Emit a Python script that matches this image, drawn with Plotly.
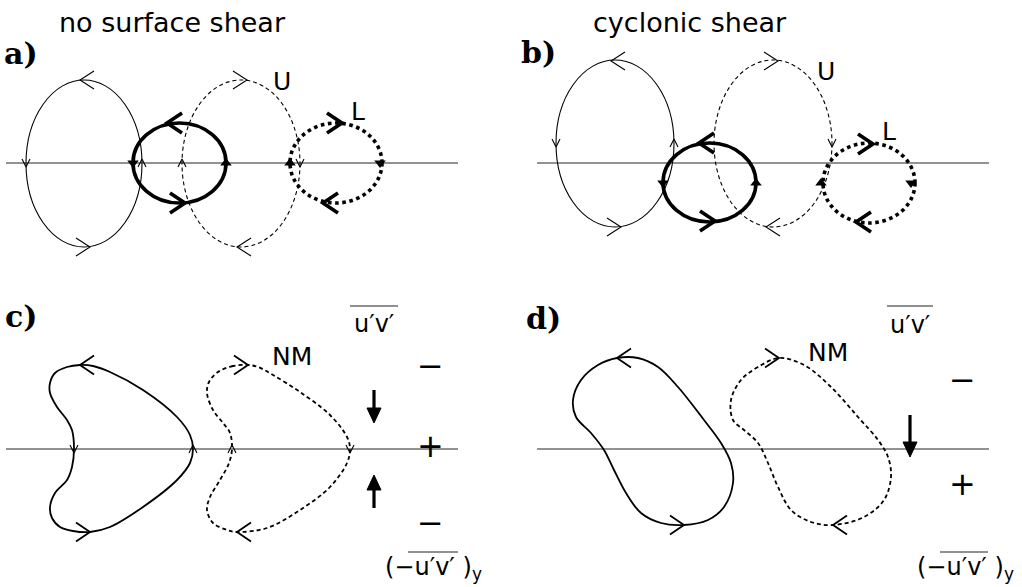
import plotly.graph_objects as go

W, H = 1022, 587

# =========================
# data (pixel positions, y grows downward)
# =========================

# panels a / b : four cells each -> thin solid, thick solid, thin dashed (U), thick dotted (L)
cell_kinds = ["thin", "thick", "dashed", "dotted"]

a_left = [26, 133, 182, 290]
a_right = [142, 226, 300, 382]
a_top = [80, 123, 80, 123]
a_bottom = [247, 203, 247, 203]

b_left = [556, 663, 714, 823]
b_right = [674, 756, 832, 915]
b_top = [60, 143, 60, 143]
b_bottom = [227, 222, 227, 223]

# panel c : kidney shaped cells
c_solid_x = [80, 67, 55, 50, 50, 57, 67, 72, 74, 72, 67, 55, 50, 52, 60, 73, 90,
             110, 143, 177, 190, 193, 190, 177, 143, 110, 93, 80]
c_solid_y = [365, 367, 373, 383, 393, 407, 420, 430, 449, 467, 480, 493, 507, 518, 527, 531, 532,
             527, 507, 480, 463, 449, 435, 417, 390, 372, 366, 365]
c_dash_x = [248, 233, 218, 209, 207, 213, 223, 230, 232, 229, 220, 210, 207, 213, 227, 237,
            267, 300, 330, 347, 350, 347, 330, 300, 273, 258, 248]
c_dash_y = [365, 366, 372, 382, 393, 410, 423, 433, 449, 463, 480, 497, 510, 523, 530, 532,
            528, 510, 487, 463, 449, 437, 415, 392, 375, 367, 365]

# panel d : tilted cells
d_solid_x = [617, 598, 581, 573, 576, 591, 604, 614, 626, 641, 661, 684,
             708, 724, 733, 731, 721, 704, 678, 658, 638, 617]
d_solid_y = [358, 365, 380, 400, 417, 433, 450, 470, 493, 513, 523, 525,
             520, 507, 483, 463, 443, 420, 387, 367, 358, 358]
d_dash_x = [779, 758, 741, 731, 733, 744, 758, 768, 778, 791, 811, 833,
            864, 884, 891, 888, 878, 858, 831, 804, 779]
d_dash_y = [358, 367, 380, 400, 420, 430, 443, 463, 487, 510, 522, 525,
            517, 500, 477, 457, 440, 417, 387, 365, 358]

# zero lines: x0, x1, y
axis_x0 = [6, 537, 6, 537]
axis_x1 = [458, 989, 458, 989]
axis_y = [163, 163, 449, 449]

# open arrowheads: tip x, tip y, direction, kind
head_x = [80, 90, 26, 142, 167, 185, 247, 237, 182, 300, 342, 323,
          611, 621, 556, 674, 699, 715, 778, 766, 832, 873, 856,
          80, 90, 74, 193, 248, 237, 232, 350,
          617, 684, 779, 833]
head_y = [80, 247, 167, 159, 123, 203, 80, 247, 159, 167, 123, 203,
          61, 227, 147, 139, 143, 221, 61, 227, 147, 144, 222,
          365, 532, 453, 445, 365, 532, 445, 453,
          358, 525, 358, 525]
head_dir = ["l", "r", "d", "u", "l", "r", "r", "l", "u", "d", "r", "l",
            "l", "r", "d", "u", "l", "r", "r", "l", "d", "r", "l",
            "l", "r", "d", "u", "r", "l", "u", "d",
            "l", "r", "r", "l"]
head_kind = ["thin", "thin", "small", "small", "thick", "thick", "thin", "thin", "small", "small", "thick", "thick",
             "thin", "thin", "small", "small", "thick", "thick", "thin", "thin", "small", "thick", "thick",
             "loop", "loop", "small", "small", "loop", "loop", "small", "small",
             "loop", "loop", "loop", "loop"]

# filled arrowheads on the thick cells
fill_x = [133, 226, 290, 380, 663, 756, 821, 911]
fill_y = [163, 163, 163, 163, 183, 183, 183, 183]
fill_dir = ["d", "u", "u", "d", "d", "u", "u", "d"]

# momentum flux convergence arrows: x, tail y, tip y
flux_x = [374, 374, 910]
flux_tail = [390, 508, 415]
flux_tip = [423, 475, 457]

# labels
title_text = ["no surface shear", "cyclonic shear"]
title_x = [172, 690]
title_y = [22, 22]

panel_text = ["a)", "b)", "c)", "d)"]
panel_x = [2, 519, 3, 524]
panel_y = [53, 52, 316, 318]

cell_text = ["U", "L", "U", "L", "NM", "NM"]
cell_x = [282, 358, 826, 889, 292, 828]
cell_y = [81, 111, 71, 131, 356, 352]

sign_text = ["\u2212", "+", "\u2212", "\u2212", "+"]
sign_x = [430, 430, 430, 962, 962]
sign_y = [366, 446, 523, 380, 484]

flux_label_x = [374, 910]
flux_label_y = [324, 325]
deriv_label_x = [383, 915]
deriv_label_y = [567, 567]
deriv_sub_x = [477, 1009]
deriv_sub_y = [574, 574]
# overlines: x0, x1, y
bar_x0 = [350, 887, 408, 940]
bar_x1 = [398, 933, 458, 988]
bar_y = [306, 306, 552, 552]

# =========================
# styles
# =========================
SANS = "DejaVu Sans"
SERIF = "DejaVu Serif"

CELL_STYLE = {
    "thin": dict(color="black", width=1.1, dash="solid"),
    "thick": dict(color="black", width=3.6, dash="solid"),
    "dashed": dict(color="black", width=1.1, dash="4px,3px"),
    "dotted": dict(color="black", width=3.6, dash="dot"),
}

# length along, half width across, line width
HEAD_STYLE = {
    "thin": (14, 9, 1.1),
    "thick": (15, 10, 3.6),
    "small": (8, 4, 1.1),
    "loop": (14, 9.5, 1.8),
}

# solid arrow head for the flux arrows: length, half width
FLUX_HEAD = (15, 7)

DIRS = {"l": (-1, 0), "r": (1, 0), "u": (0, -1), "d": (0, 1)}


def chevrons(kind):
    length, half, _ = HEAD_STYLE[kind]
    px, py = [], []
    for x, y, d, k in zip(head_x, head_y, head_dir, head_kind):
        if k != kind:
            continue
        ux, uy = DIRS[d]
        bx, by = x - ux * length, y - uy * length
        nx, ny = -uy, ux
        px += [bx + nx * half, x, bx - nx * half, None]
        py += [by + ny * half, y, by - ny * half, None]
    return px, py


fig = go.Figure()

# zero lines
for x0, x1, y in zip(axis_x0, axis_x1, axis_y):
    fig.add_shape(
        type="line", xref="x", yref="y",
        x0=x0, x1=x1, y0=y, y1=y,
        line=dict(color="#6e6e6e", width=1.6 if y > 300 else 1.3),
        layer="below",
    )

# elliptical cells of panels a and b
for lefts, rights, tops, bottoms in [(a_left, a_right, a_top, a_bottom),
                                     (b_left, b_right, b_top, b_bottom)]:
    for kind, x0, x1, y0, y1 in zip(cell_kinds, lefts, rights, tops, bottoms):
        fig.add_shape(
            type="circle", xref="x", yref="y",
            x0=x0, x1=x1, y0=y0, y1=y1,
            line=CELL_STYLE[kind],
        )

# irregular cells of panels c and d
for xs, ys, dash in [(c_solid_x, c_solid_y, "solid"), (c_dash_x, c_dash_y, "4px,3px"),
                     (d_solid_x, d_solid_y, "solid"), (d_dash_x, d_dash_y, "4px,3px")]:
    fig.add_trace(
        go.Scatter(
            x=xs, y=ys, mode="lines",
            line=dict(color="black", width=1.8, dash=dash, shape="spline", smoothing=1),
            hoverinfo="skip",
        )
    )

# open arrowheads
for kind in HEAD_STYLE:
    px, py = chevrons(kind)
    fig.add_trace(
        go.Scatter(
            x=px, y=py, mode="lines",
            line=dict(color="black", width=HEAD_STYLE[kind][2]),
            hoverinfo="skip",
        )
    )

# filled arrowheads
fig.add_trace(
    go.Scatter(
        x=fill_x, y=fill_y, mode="markers",
        marker=dict(
            symbol=["triangle-down" if d == "d" else "triangle-up" for d in fill_dir],
            size=10, color="black",
        ),
        hoverinfo="skip",
    )
)

# flux convergence arrows (shaft + filled head)
length, half = FLUX_HEAD
for x, y0, y1 in zip(flux_x, flux_tail, flux_tip):
    sign = 1 if y1 > y0 else -1
    base = y1 - sign * length
    fig.add_trace(
        go.Scatter(
            x=[x, x], y=[y0, base + sign * 2], mode="lines",
            line=dict(color="black", width=3.2),
            hoverinfo="skip",
        )
    )
    fig.add_trace(
        go.Scatter(
            x=[x - half, x, x + half, x - half], y=[base, y1, base, base],
            mode="lines", fill="toself", fillcolor="black",
            line=dict(color="black", width=1),
            hoverinfo="skip",
        )
    )

# overlines
for x0, x1, y in zip(bar_x0, bar_x1, bar_y):
    fig.add_shape(
        type="line", xref="x", yref="y",
        x0=x0, x1=x1, y0=y, y1=y,
        line=dict(color="#222222", width=1.2),
    )


def label(text, x, y, size, family=SANS, anchor="center"):
    fig.add_annotation(
        x=x, y=y, xref="x", yref="y", text=text, showarrow=False,
        xanchor=anchor, yanchor="middle",
        font=dict(family=family, size=size, color="black"),
    )


for t, x, y in zip(title_text, title_x, title_y):
    label(t, x, y, 27)
for t, x, y in zip(panel_text, panel_x, panel_y):
    label("<b>" + t + "</b>", x, y, 30, family=SERIF, anchor="left")
for t, x, y in zip(cell_text, cell_x, cell_y):
    label(t, x, y, 25)
for t, x, y in zip(sign_text, sign_x, sign_y):
    label(t, x, y, 32)
for x, y in zip(flux_label_x, flux_label_y):
    label("u\u2032v\u2032", x, y, 24)
for x, y in zip(deriv_label_x, deriv_label_y):
    label("(\u2212u\u2032v\u2032 )", x, y, 24, anchor="left")
for x, y in zip(deriv_sub_x, deriv_sub_y):
    label("y", x, y, 17)

fig.update_layout(
    width=W,
    height=H,
    margin=dict(l=0, r=0, t=0, b=0),
    paper_bgcolor="white",
    plot_bgcolor="white",
    showlegend=False,
    xaxis=dict(range=[0, W], visible=False, fixedrange=True),
    yaxis=dict(range=[H, 0], visible=False, fixedrange=True),
)

fig.write_html(
    "out.html",
    config={"displayModeBar": False},
    post_script="document.body.style.margin='0';",
)
